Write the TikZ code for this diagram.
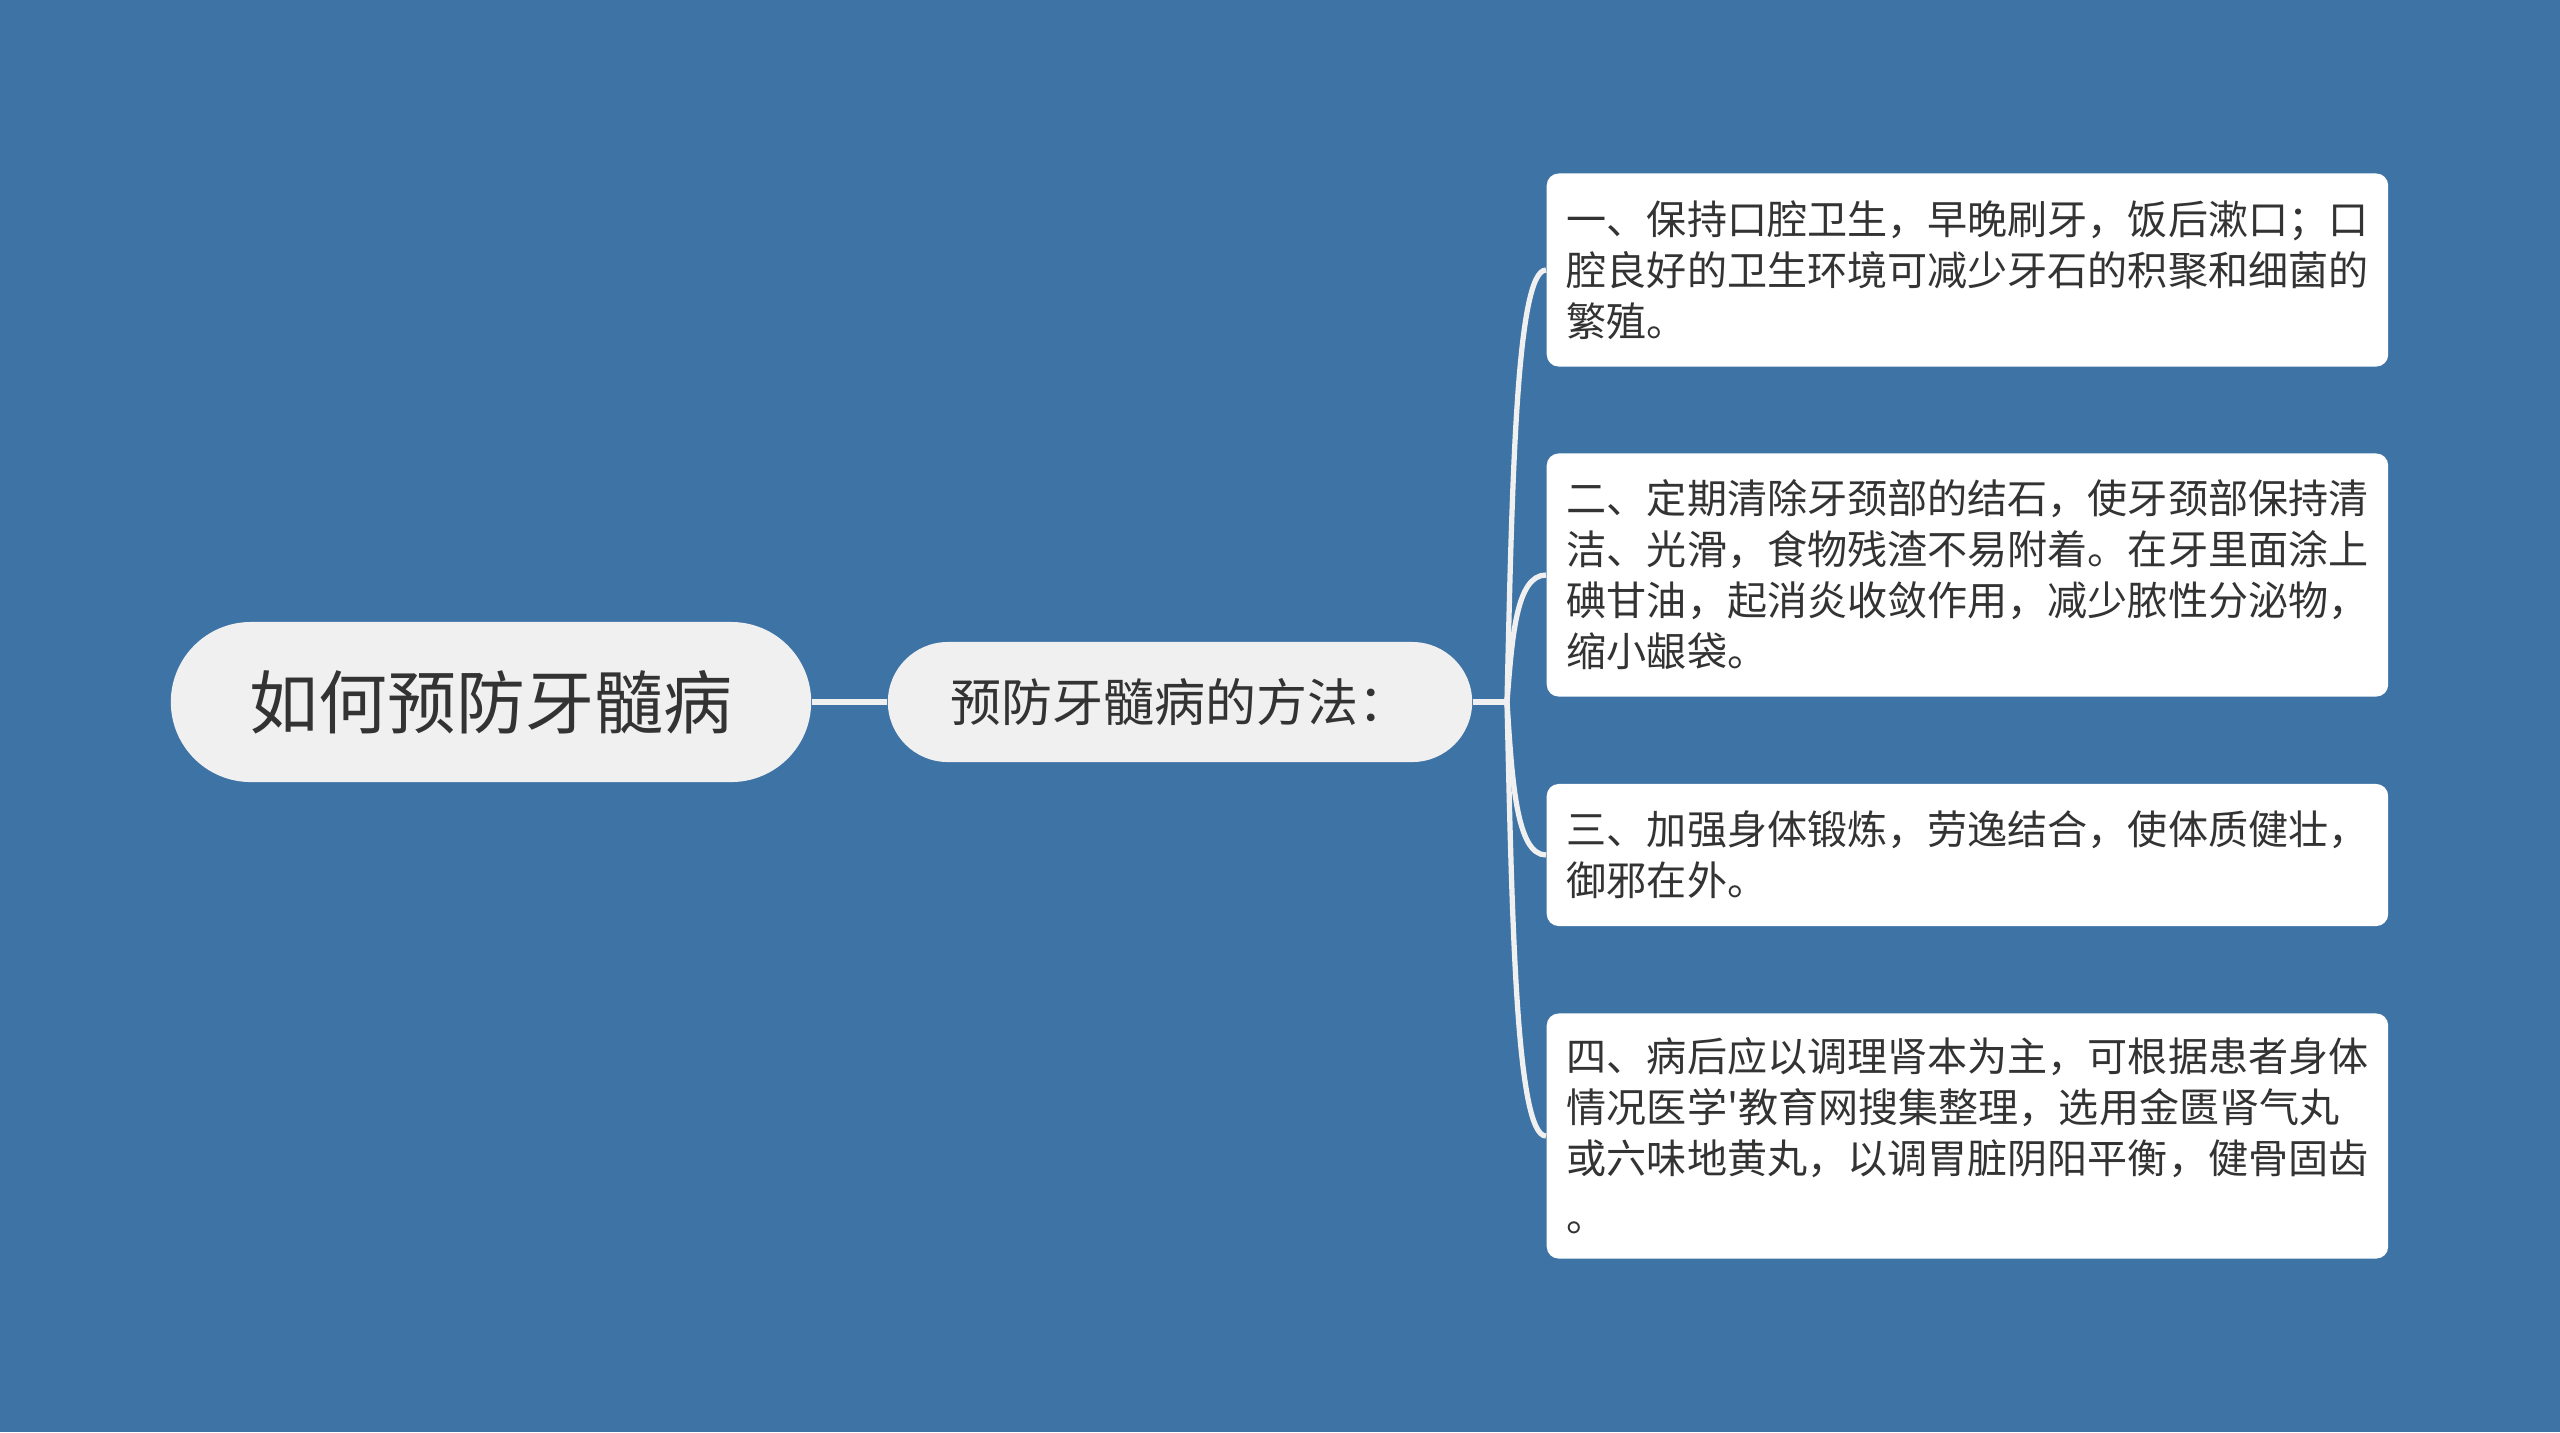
\documentclass[tikz,border=0pt]{standalone}
\usepackage{fontspec}
\usepackage{tikz}
\usetikzlibrary{calc}
\newfontfamily\cjk{Noto Sans CJK SC}
\definecolor{bgblue}{RGB}{62,115,166}
\definecolor{pillgray}{RGB}{240,240,240}
\definecolor{inkgray}{RGB}{51,51,51}

\begin{document}
\begin{tikzpicture}[x=0.01cm,y=-0.01cm,
    root/.style={fill=pillgray, text=inkgray, rounded corners=0.8cm,
      minimum width=6.4cm, minimum height=1.6cm,
      font=\cjk\fontsize{19.6pt}{24pt}\selectfont},
    sub/.style={fill=pillgray, text=inkgray, rounded corners=0.6cm,
      minimum width=5.84cm, minimum height=1.2cm,
      font=\cjk\fontsize{14.5pt}{18pt}\selectfont},
    leaf/.style={fill=white, text=inkgray, rounded corners=0.12cm,
      anchor=west, align=left, text width=8.01cm, inner xsep=0.2cm,
      minimum width=8.41cm, font=\cjk\fontsize{11.4pt}{14.5pt}\selectfont},
    link/.style={draw=pillgray, line width=1.5pt}]
      \fill[bgblue] (0,0) rectangle (2560,1432);
      \useasboundingbox (0,0) rectangle (2560,1432);
      % root and sub
      \node[root] (root) at (491,702) {如何预防牙髓病};
      \node[sub] (sub) at (1180,702) {预防牙髓病的方法：};
      \coordinate (fork) at (1507,702);
      % leaves
      \node[leaf, minimum height=1.93cm] (l1) at (1546,270)
        {一、保持口腔卫生，早晚刷牙，饭后漱口；口\\腔良好的卫生环境可减少牙石的积聚和细菌的\\繁殖。};
      \node[leaf, minimum height=2.43cm] (l2) at (1546,575)
        {二、定期清除牙颈部的结石，使牙颈部保持清\\洁、光滑，食物残渣不易附着。在牙里面涂上\\碘甘油，起消炎收敛作用，减少脓性分泌物，\\缩小龈袋。};
      \node[leaf, minimum height=1.42cm] (l3) at (1546,855)
        {三、加强身体锻炼，劳逸结合，使体质健壮，\\御邪在外。};
      \node[leaf, minimum height=2.45cm] (l4) at (1546,1136)
        {四、病后应以调理肾本为主，可根据患者身体\\情况医学'教育网搜集整理，选用金匮肾气丸\\或六味地黄丸，以调胃脏阴阳平衡，健骨固齿\\[2pt]。};
      % links
      \draw[link] (root.east) -- (sub.west);
      \draw[link] (sub.east) -- (fork);
      \foreach \i in {1,...,4}
        \draw[link] (fork) .. controls ($(fork)!0.5!(fork |- l\i.west)+(5,0)$)
          and ($(l\i.west)+(-30,0)$) .. (l\i.west);
\end{tikzpicture}
\end{document}
